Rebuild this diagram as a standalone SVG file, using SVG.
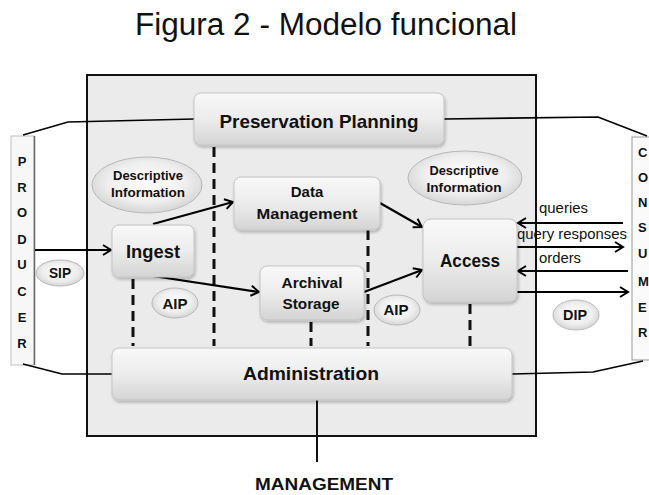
<svg xmlns="http://www.w3.org/2000/svg" width="649" height="495" viewBox="0 0 649 495">
<defs>
<linearGradient id="boxg" x1="0" y1="0" x2="0" y2="1">
<stop offset="0" stop-color="#f8f8f8"/>
<stop offset="0.5" stop-color="#ececec"/>
<stop offset="1" stop-color="#d4d4d4"/>
</linearGradient>
<radialGradient id="ellg" cx="0.5" cy="0.45" r="0.6">
<stop offset="0" stop-color="#ffffff"/>
<stop offset="0.6" stop-color="#eeeeee"/>
<stop offset="1" stop-color="#cfcfcf"/>
</radialGradient>
<filter id="sh" x="-10%" y="-10%" width="120%" height="130%">
<feDropShadow dx="1" dy="2" stdDeviation="1.5" flood-color="#000" flood-opacity="0.25"/>
</filter>
<marker id="arr" markerWidth="12" markerHeight="12" refX="10" refY="6" orient="auto" markerUnits="userSpaceOnUse">
<path d="M2,1 L10,6 L2,11" fill="none" stroke="#000" stroke-width="2"/>
</marker>
</defs>
<style>
.t{font-family:"Liberation Sans",Arial,sans-serif;fill:#111}
.b{font-weight:bold}
.box{fill:url(#boxg);stroke:#c4c4c4;stroke-width:1;filter:url(#sh)}
.ell{fill:url(#ellg);stroke:#b8b8b8;stroke-width:1}
.ln{fill:none;stroke:#000;stroke-width:1.6}
.ar{fill:none;stroke:#000;stroke-width:2.2;marker-end:url(#arr)}
.ds{fill:none;stroke:#111;stroke-width:3;stroke-dasharray:10 6}
</style>
<rect width="649" height="495" fill="#fff"/>
<text class="t" x="326" y="35" font-size="31" text-anchor="middle" textLength="382" lengthAdjust="spacingAndGlyphs">Figura 2 - Modelo funcional</text>

<g id="system">
<rect x="87" y="75" width="449" height="361" fill="#ebebeb" stroke="#111" stroke-width="2"/>
</g>

<g id="producer">
<rect x="11" y="136" width="23" height="229" fill="#f7f7f7" stroke="#c0c0c0" stroke-width="1"/>
<line x1="34.5" y1="136" x2="34.5" y2="365" stroke="#666" stroke-width="1.5"/>
<g class="t b" font-size="13" text-anchor="middle">
<text x="22" y="166">P</text><text x="22" y="192">R</text><text x="22" y="217">O</text><text x="22" y="244">D</text>
<text x="22" y="269">U</text><text x="22" y="296">C</text><text x="22" y="322">E</text><text x="22" y="348">R</text>
</g>
</g>

<g id="consumer">
<rect x="632" y="137" width="20" height="223" fill="#fafafa" stroke="#999" stroke-width="1"/>
<g class="t b" font-size="13">
<text x="638" y="157">C</text><text x="638" y="182">O</text><text x="638" y="207">N</text><text x="638" y="232">S</text>
<text x="638" y="258">U</text><text x="638" y="286">M</text><text x="638" y="312">E</text><text x="638" y="337">R</text>
</g>
</g>

<g id="connectors">
<polyline class="ln" points="23,135 68,122 194,119"/>
<polyline class="ln" points="23,364 62,374 112,374"/>
<polyline class="ln" points="444,119 598,117 647,136"/>
<polyline class="ln" points="512,374 593,372 643,361"/>
<line x1="317" y1="400" x2="317" y2="462" stroke="#111" stroke-width="2"/>
<line class="ds" x1="214" y1="147" x2="214" y2="346"/>
<line class="ds" x1="133" y1="279" x2="133" y2="346"/>
<line class="ds" x1="368" y1="230" x2="368" y2="346"/>
<line class="ds" x1="311" y1="322" x2="311" y2="346"/>
<line class="ds" x1="470" y1="304" x2="470" y2="346"/>
<line class="ar" x1="35" y1="250" x2="111" y2="250"/>
<line class="ar" x1="153" y1="224" x2="233" y2="202"/>
<line class="ar" x1="153" y1="276" x2="259" y2="292"/>
<line class="ar" x1="380" y1="203" x2="422" y2="227"/>
<line class="ar" x1="364" y1="292" x2="422" y2="270"/>
<line class="ar" x1="623" y1="223" x2="518" y2="223"/>
<line class="ar" x1="517" y1="247" x2="623" y2="247"/>
<line class="ar" x1="628" y1="271" x2="518" y2="271"/>
<line class="ar" x1="517" y1="292" x2="628" y2="292"/>
<g class="t" font-size="14">
<text x="539" y="213" textLength="49" lengthAdjust="spacingAndGlyphs">queries</text>
<text x="517" y="239" textLength="110" lengthAdjust="spacingAndGlyphs">query responses</text>
<text x="539" y="263" textLength="42" lengthAdjust="spacingAndGlyphs">orders</text>
</g>
</g>

<g id="preservation-planning">
<rect class="box" x="194" y="93" width="250" height="52" rx="7"/>
<text class="t b" x="319" y="128" font-size="19" text-anchor="middle" textLength="199" lengthAdjust="spacingAndGlyphs">Preservation Planning</text>
</g>

<g id="descriptive-info-left">
<ellipse class="ell" cx="147" cy="185" rx="55" ry="28"/>
<text class="t b" x="148" y="180" font-size="12" text-anchor="middle" textLength="70" lengthAdjust="spacingAndGlyphs">Descriptive</text>
<text class="t b" x="148" y="197" font-size="12" text-anchor="middle" textLength="74" lengthAdjust="spacingAndGlyphs">Information</text>
</g>

<g id="descriptive-info-right">
<ellipse class="ell" cx="465" cy="178" rx="57" ry="27"/>
<text class="t b" x="464" y="175" font-size="12" text-anchor="middle" textLength="69" lengthAdjust="spacingAndGlyphs">Descriptive</text>
<text class="t b" x="464" y="192" font-size="12" text-anchor="middle" textLength="75" lengthAdjust="spacingAndGlyphs">Information</text>
</g>

<g id="ingest">
<rect class="box" x="112" y="225" width="82" height="52" rx="7"/>
<text class="t b" x="153" y="258" font-size="19" text-anchor="middle" textLength="54" lengthAdjust="spacingAndGlyphs">Ingest</text>
</g>

<g id="data-management">
<rect class="box" x="234" y="177" width="146" height="53" rx="7"/>
<text class="t b" x="307" y="197" font-size="15" text-anchor="middle">Data</text>
<text class="t b" x="307" y="219" font-size="15" text-anchor="middle" textLength="101" lengthAdjust="spacingAndGlyphs">Management</text>
</g>

<g id="archival-storage">
<rect class="box" x="260" y="266" width="104" height="54" rx="7"/>
<text class="t b" x="312" y="288" font-size="15" text-anchor="middle" textLength="61" lengthAdjust="spacingAndGlyphs">Archival</text>
<text class="t b" x="311" y="309" font-size="15" text-anchor="middle" textLength="57" lengthAdjust="spacingAndGlyphs">Storage</text>
</g>

<g id="access">
<rect class="box" x="423" y="219" width="94" height="83" rx="8"/>
<text class="t b" x="470" y="267" font-size="19" text-anchor="middle" textLength="60" lengthAdjust="spacingAndGlyphs">Access</text>
</g>

<g id="administration">
<rect class="box" x="112" y="348" width="400" height="52" rx="7"/>
<text class="t b" x="311" y="380" font-size="19" text-anchor="middle" textLength="136" lengthAdjust="spacingAndGlyphs">Administration</text>
</g>

<g id="sip">
<ellipse class="ell" cx="60" cy="273" rx="24" ry="13"/>
<text class="t b" x="60" y="278" font-size="14" text-anchor="middle" textLength="22" lengthAdjust="spacingAndGlyphs">SIP</text>
</g>
<g id="aip-left">
<ellipse class="ell" cx="175" cy="303" rx="23" ry="15"/>
<text class="t b" x="175" y="309" font-size="14" text-anchor="middle" textLength="25" lengthAdjust="spacingAndGlyphs">AIP</text>
</g>
<g id="aip-right">
<ellipse class="ell" cx="397" cy="310" rx="23" ry="15"/>
<text class="t b" x="396" y="315" font-size="14" text-anchor="middle" textLength="25" lengthAdjust="spacingAndGlyphs">AIP</text>
</g>
<g id="dip">
<ellipse class="ell" cx="576" cy="315" rx="23" ry="15"/>
<text class="t b" x="575" y="320" font-size="14" text-anchor="middle" textLength="24" lengthAdjust="spacingAndGlyphs">DIP</text>
</g>

<g id="management">
<text class="t b" x="324" y="490" font-size="17" text-anchor="middle" textLength="138" lengthAdjust="spacingAndGlyphs">MANAGEMENT</text>
</g>
</svg>
